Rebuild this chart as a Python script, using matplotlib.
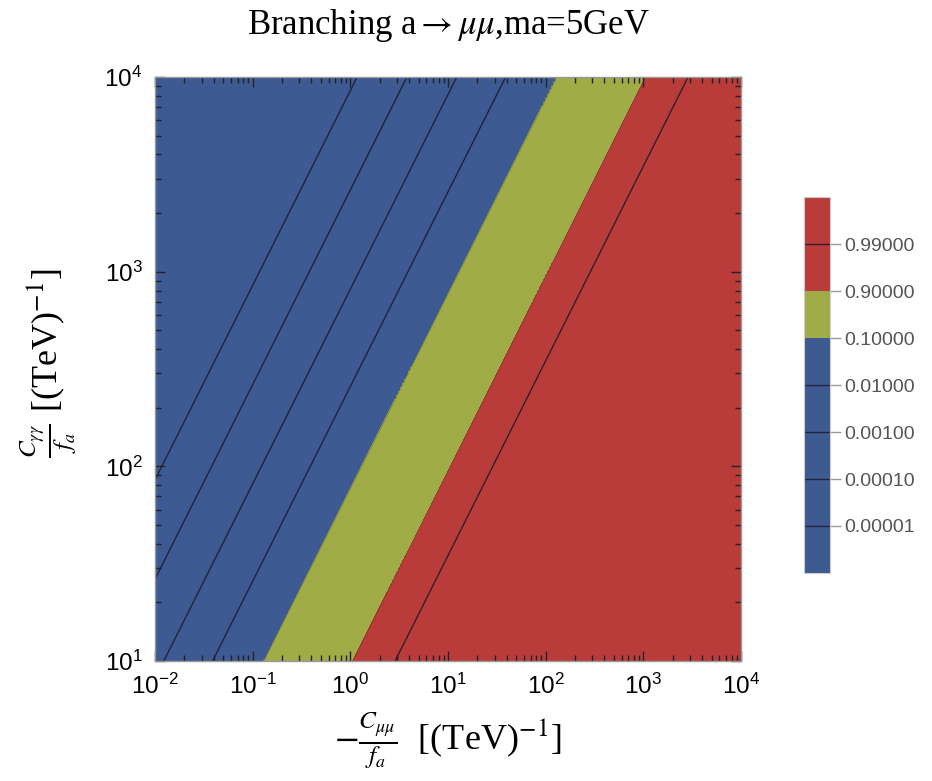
import numpy as np
import matplotlib
matplotlib.use('Agg')
import matplotlib.pyplot as plt
from matplotlib.ticker import LogLocator, FuncFormatter, NullFormatter

plt.rcParams['mathtext.fontset'] = 'stix'

# contour levels of BR(a -> mu mu), ma = 5 GeV
br_levels = ['0.00001', '0.00010', '0.00100', '0.01000', '0.10000', '0.90000', '0.99000']
# where each contour sits as log10(-Cmumu/fa) - log10(Cgg/fa)
# (all contours are straight lines of slope 1 in the log-log plane)
level_offset = [-3.93, -3.42, -2.91, -2.41, -1.885, -0.974, -0.542]
# fill colour of each band between levels (lowest band first)
band_colors = ['#3D5A93'] * 5 + ['#A0AC46'] + ['#B93C3B'] * 2

x_lim = [1e-2, 1e4]
y_lim = [1e1, 1e4]

# field on a grid: level index as a function of the offset
x = np.logspace(np.log10(x_lim[0]), np.log10(x_lim[1]), 700)
y = np.logspace(np.log10(y_lim[0]), np.log10(y_lim[1]), 500)
X, Y = np.meshgrid(x, y)
U = np.log10(X) - np.log10(Y)
idx = np.arange(len(br_levels))
Z = np.interp(U, level_offset, idx)
Z = np.where(U < level_offset[0], (U - level_offset[0]) * 2, Z)
Z = np.where(U > level_offset[-1], idx[-1] + (U - level_offset[-1]) * 2, Z)
Z = np.clip(Z, -0.99, len(br_levels) - 0.01)

fig = plt.figure(figsize=(9.32, 7.81), dpi=100)
ax = fig.add_axes([155 / 932, 1 - 661 / 781, 586 / 932, 584 / 781])

fill_levels = np.arange(-1, len(br_levels) + 1)
cf = ax.contourf(X, Y, Z, levels=fill_levels, colors=band_colors)
line_levels = [0, 1, 2, 3, 6]
cl = ax.contour(X, Y, Z, levels=line_levels, colors='#1a1a2a', linewidths=1.0, alpha=0.85)
ax.contour(X, Y, Z, levels=[4, 5], colors='#333333', linewidths=0.6, alpha=0.35)

ax.set_xscale('log')
ax.set_yscale('log')
ax.set_xlim(x_lim)
ax.set_ylim(y_lim)

sup = FuncFormatter(lambda v, p: r'$\mathregular{10^{%d}}$' % round(np.log10(v)))
for axis in (ax.xaxis, ax.yaxis):
    axis.set_major_locator(LogLocator(base=10, numticks=10))
    axis.set_minor_locator(LogLocator(base=10, subs=np.arange(2, 10), numticks=100))
    axis.set_major_formatter(sup)
    axis.set_minor_formatter(NullFormatter())
ax.tick_params(which='both', direction='in', top=True, right=True, color='#222222', width=1)
ax.tick_params(which='major', length=7, labelsize=17.5, pad=9)
ax.tick_params(which='minor', length=4)
for lab in ax.get_xticklabels() + ax.get_yticklabels():
    lab.set_family('Liberation Sans')
for sp in ax.spines.values():
    sp.set_color('#999999')
    sp.set_linewidth(1)

ax.set_title(r'Branching a$\rightarrow\mu\mu$,ma=5GeV', fontsize=25,
             family='Liberation Serif', pad=31)
ax.set_xlabel(r'$-\frac{C_{\mu\mu}}{f_a}$  [(TeV)$^{-1}$]', fontsize=26,
              family='Liberation Serif', labelpad=8)
ax.set_ylabel(r'$\frac{C_{\gamma\gamma}}{f_a}$ [(TeV)$^{-1}$]', fontsize=26,
              family='Liberation Serif')
ax.yaxis.set_label_coords(-0.13, 0.51)

cax = fig.add_axes([804 / 932, 1 - 573 / 781, 26 / 932, 376 / 781])
cb = fig.colorbar(cf, cax=cax, ticks=idx)
cb.set_ticklabels(br_levels)
cb.add_lines(cl)
cb.ax.tick_params(length=8, width=1, color='#999999', labelcolor='#555555', labelsize=14, pad=2)
for lab in cb.ax.get_yticklabels():
    lab.set_family('Liberation Sans')
cb.outline.set_edgecolor('#cccccc')

plt.savefig('out.png', dpi=100)
